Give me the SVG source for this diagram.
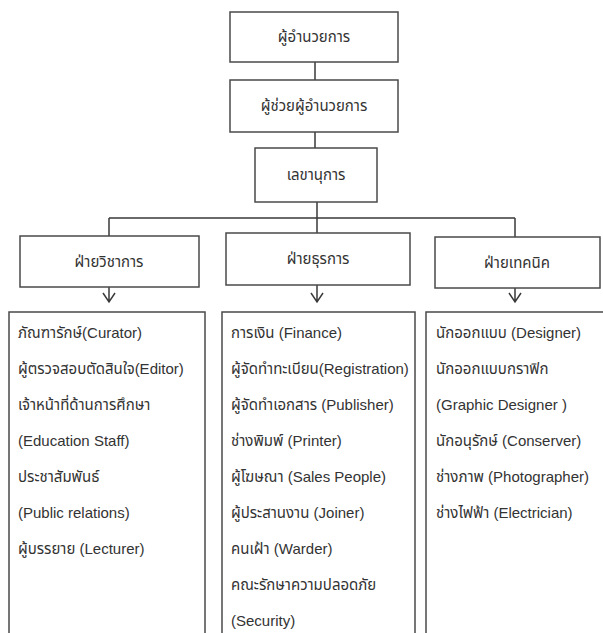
<svg xmlns="http://www.w3.org/2000/svg" width="603" height="633" viewBox="0 0 603 633">
<style>
.box{fill:#fff;stroke:#4a4a4a;stroke-width:1.5}
.ln{fill:none;stroke:#3a3a3a;stroke-width:1.5}
.t{font-family:"Liberation Sans","Noto Sans Thai","Noto Sans","DejaVu Sans",sans-serif;font-size:15px;fill:#333}
.c{text-anchor:middle}
</style>
<rect width="603" height="633" fill="#fff"/>
<g id="connectors">
<path class="ln" d="M315 62V80M315 132V148M317 202V218M109 218H515M109 218V236M317 218V233M515 218V237"/>
<path class="ln" d="M109 287V302M103 293L109 302L115 293"/>
<path class="ln" d="M317 285V302M311 293L317 302L323 293"/>
<path class="ln" d="M515 288V302M509 293L515 302L521 293"/>
</g>
<g id="director"><rect class="box" x="230" y="12" width="168" height="50"/><text class="t c" x="314" y="42">ผู้อำนวยการ</text></g>
<g id="assistant"><rect class="box" x="230" y="80" width="168" height="52"/><text class="t c" x="314" y="111">ผู้ช่วยผู้อำนวยการ</text></g>
<g id="secretary"><rect class="box" x="255" y="148" width="122" height="54"/><text class="t c" x="316" y="180">เลขานุการ</text></g>
<g id="academic"><rect class="box" x="20" y="236" width="179" height="51"/><text class="t c" x="109" y="267">ฝ่ายวิชาการ</text></g>
<g id="admin"><rect class="box" x="226" y="233" width="184" height="52"/><text class="t c" x="318" y="264">ฝ่ายธุรการ</text></g>
<g id="technical"><rect class="box" x="435" y="237" width="165" height="51"/><text class="t c" x="517" y="268">ฝ่ายเทคนิค</text></g>
<g id="academic-staff"><rect class="box" x="9" y="312" width="196" height="330"/>
<text class="t" x="18" y="338">ภัณฑารักษ์(Curator)</text>
<text class="t" x="18" y="374">ผู้ตรวจสอบตัดสินใจ(Editor)</text>
<text class="t" x="18" y="410">เจ้าหน้าที่ด้านการศึกษา</text>
<text class="t" x="18" y="446">(Education Staff)</text>
<text class="t" x="18" y="482">ประชาสัมพันธ์</text>
<text class="t" x="18" y="518">(Public relations)</text>
<text class="t" x="18" y="554">ผู้บรรยาย (Lecturer)</text>
</g>
<g id="admin-staff"><rect class="box" x="222" y="312" width="193" height="330"/>
<text class="t" x="231" y="338">การเงิน (Finance)</text>
<text class="t" x="231" y="374">ผู้จัดทำทะเบียน(Registration)</text>
<text class="t" x="231" y="410">ผู้จัดทำเอกสาร (Publisher)</text>
<text class="t" x="231" y="446">ช่างพิมพ์ (Printer)</text>
<text class="t" x="231" y="482">ผู้โฆษณา (Sales People)</text>
<text class="t" x="231" y="518">ผู้ประสานงาน  (Joiner)</text>
<text class="t" x="231" y="554">คนเฝ้า (Warder)</text>
<text class="t" x="231" y="590">คณะรักษาความปลอดภัย</text>
<text class="t" x="231" y="626">(Security)</text>
</g>
<g id="technical-staff"><rect class="box" x="426" y="312" width="190" height="330"/>
<text class="t" x="436" y="338">นักออกแบบ (Designer)</text>
<text class="t" x="436" y="374">นักออกแบบกราฟิก</text>
<text class="t" x="436" y="410">(Graphic Designer  )</text>
<text class="t" x="436" y="446">นักอนุรักษ์ (Conserver)</text>
<text class="t" x="436" y="482">ช่างภาพ (Photographer)</text>
<text class="t" x="436" y="518">ช่างไฟฟ้า (Electrician)</text>
</g>
</svg>
